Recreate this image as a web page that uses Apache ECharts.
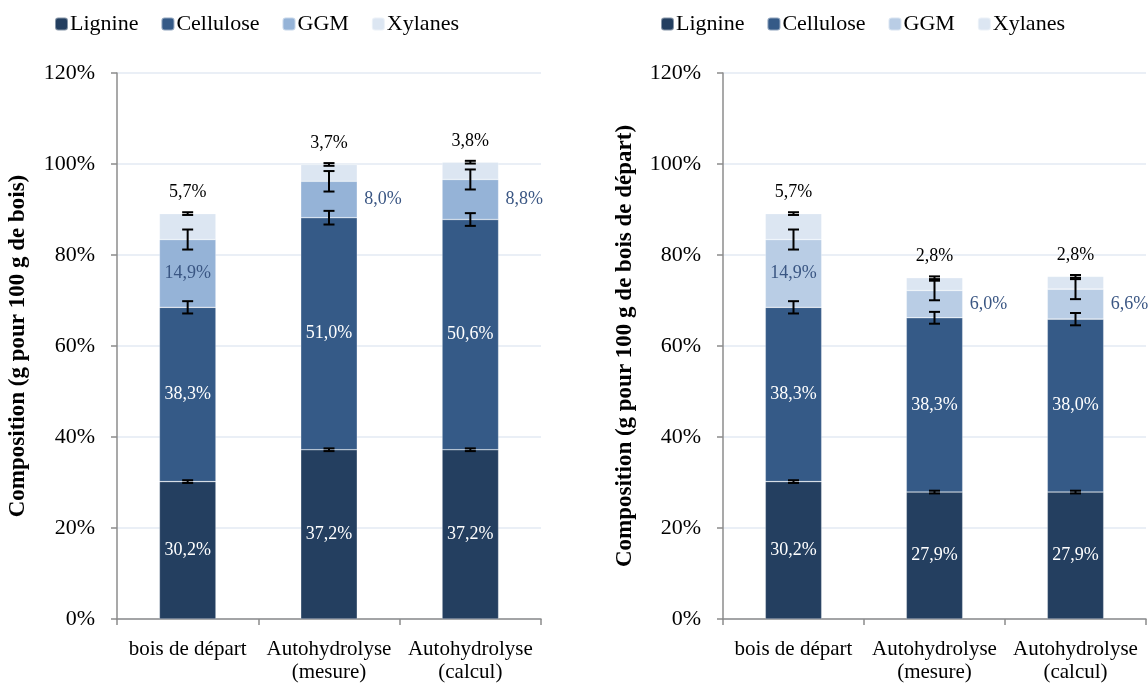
<!DOCTYPE html>
<html><head><meta charset="utf-8">
<script src="https://cdn.jsdelivr.net/npm/echarts@6/dist/echarts.min.js"></script>
<style>html,body{margin:0;padding:0;background:#fff}#c{width:1148px;height:684px}</style>
</head><body><div id="c"></div>
<script>
const categories = ['bois de départ', 'Autohydrolyse\n(mesure)', 'Autohydrolyse\n(calcul)'];
const seriesNames = ['Lignine', 'Cellulose', 'GGM', 'Xylanes'];
const yTicks = [0, 20, 40, 60, 80, 100, 120];

// Left chart: g pour 100 g de bois
const leftLignine = [30.2, 37.2, 37.2];
const leftCellulose = [38.3, 51.0, 50.6];
const leftGGM = [14.9, 8.0, 8.8];
const leftXylanes = [5.7, 3.7, 3.8];
const leftErrLignine = [0.3, 0.3, 0.3];
const leftErrCellulose = [1.35, 1.5, 1.4];
const leftErrGGM = [2.2, 2.25, 2.2];
const leftErrXylanes = [0.3, 0.3, 0.3];

// Right chart: g pour 100 g de bois de départ
const rightLignine = [30.2, 27.9, 27.9];
const rightCellulose = [38.3, 38.3, 38.0];
const rightGGM = [14.9, 6.0, 6.6];
const rightXylanes = [5.7, 2.8, 2.8];
const rightErrLignine = [0.3, 0.3, 0.3];
const rightErrCellulose = [1.35, 1.3, 1.35];
const rightErrGGM = [2.2, 2.15, 2.2];
const rightErrXylanes = [0.3, 0.3, 0.3];

const FONT = '"Liberation Serif", "Times New Roman", serif';
const C_LIG = '#243f60', C_CEL = '#355a87', C_GGM_L = '#95b3d7', C_GGM_R = '#b9cde5', C_XYL = '#dce6f2';
const LBL_BLUE = '#3a5683';

function fmt(v) { return v.toFixed(1).replace('.', ',') + '%'; }

function buildSeries(idx, vals, errs, ggmColor) {
  const stack = 'st' + idx;
  const common = { type: 'bar', stack: stack, xAxisIndex: idx, yAxisIndex: idx, barCategoryGap: '60%',
    itemStyle: { borderColor: 'rgba(255,255,255,0.45)', borderWidth: 0.6 } };
  const inLbl = { show: true, position: 'inside', color: '#ffffff', fontFamily: FONT, fontSize: 18,
    formatter: p => fmt(p.value) };
  const out = [];
  out.push(Object.assign({}, common, { name: 'Lignine', data: vals[0], color: C_LIG,
    itemStyle: Object.assign({}, common.itemStyle, { color: C_LIG }), label: inLbl }));
  out.push(Object.assign({}, common, { name: 'Cellulose', data: vals[1], color: C_CEL,
    itemStyle: Object.assign({}, common.itemStyle, { color: C_CEL }), label: inLbl }));
  out.push(Object.assign({}, common, { name: 'GGM', color: ggmColor,
    itemStyle: Object.assign({}, common.itemStyle, { color: ggmColor }),
    data: vals[2].map((v, i) => ({ value: v, label: i === 0
      ? { show: true, position: 'inside', color: LBL_BLUE, fontFamily: FONT, fontSize: 18, formatter: p => fmt(p.value) }
      : { show: true, position: 'right', distance: 7, color: LBL_BLUE, fontFamily: FONT, fontSize: 18, formatter: p => fmt(p.value) } })) }));
  out.push(Object.assign({}, common, { name: 'Xylanes', data: vals[3], color: C_XYL,
    itemStyle: Object.assign({}, common.itemStyle, { color: C_XYL }),
    label: { show: true, position: 'top', distance: 12, color: '#000', fontFamily: FONT, fontSize: 18, formatter: p => fmt(p.value) } }));
  // error bars
  const errData = [];
  for (let i = 0; i < categories.length; i++) {
    let cum = 0;
    for (let s = 0; s < 4; s++) {
      cum += vals[s][i];
      errData.push([i, cum, errs[s][i]]);
    }
  }
  out.push({ type: 'custom', name: 'err' + idx, xAxisIndex: idx, yAxisIndex: idx, z: 10, silent: true,
    data: errData,
    renderItem: function (params, api) {
      const x = api.value(0), c = api.value(1), e = api.value(2);
      const hi = api.coord([x, c + e]), lo = api.coord([x, c - e]);
      const hw = 5.5;
      const st = { stroke: '#000', lineWidth: 2 };
      return { type: 'group', children: [
        { type: 'line', shape: { x1: hi[0], y1: hi[1], x2: lo[0], y2: lo[1] }, style: st },
        { type: 'line', shape: { x1: hi[0] - hw, y1: hi[1], x2: hi[0] + hw, y2: hi[1] }, style: st },
        { type: 'line', shape: { x1: lo[0] - hw, y1: lo[1], x2: lo[0] + hw, y2: lo[1] }, style: st }
      ] };
    } });
  return out;
}

function xAxis(idx) {
  return { type: 'category', gridIndex: idx, data: categories,
    axisLine: { lineStyle: { color: '#8c8c8c', width: 1.5 } },
    axisTick: { show: true, length: 6, lineStyle: { color: '#8c8c8c', width: 1.5 } },
    axisLabel: { interval: 0, color: '#000', fontFamily: FONT, fontSize: 21, margin: 19, lineHeight: 23 } };
}
function yAxis(idx, name, gap) {
  return { type: 'value', gridIndex: idx, min: yTicks[0], max: yTicks[yTicks.length - 1], interval: 20,
    name: name, nameLocation: 'middle', nameGap: gap,
    nameTextStyle: { color: '#000', fontFamily: FONT, fontSize: 23, fontWeight: 'bold' },
    axisLine: { show: true, lineStyle: { color: '#8c8c8c', width: 1.5 } },
    axisTick: { show: true, length: 6, lineStyle: { color: '#8c8c8c', width: 1.5 } },
    splitLine: { lineStyle: { color: '#e3eaf3', width: 1.5 } },
    axisLabel: { color: '#000', fontFamily: FONT, fontSize: 22, margin: 22, formatter: v => v + '%' } };
}

const leftVals = [leftLignine, leftCellulose, leftGGM, leftXylanes];
const leftErrs = [leftErrLignine, leftErrCellulose, leftErrGGM, leftErrXylanes];
const rightVals = [rightLignine, rightCellulose, rightGGM, rightXylanes];
const rightErrs = [rightErrLignine, rightErrCellulose, rightErrGGM, rightErrXylanes];

const legendBase = { top: 8, itemWidth: 13, itemHeight: 13, itemGap: 22,
  textStyle: { color: '#000', fontFamily: FONT, fontSize: 22, padding: [0, 0, 0, -3] } };

const option = {
  animation: false,
  textStyle: { fontFamily: FONT },
  legend: [
    Object.assign({}, legendBase, { left: 49, data: [
      { name: 'Lignine', itemStyle: { color: C_LIG } }, { name: 'Cellulose', itemStyle: { color: C_CEL } },
      { name: 'GGM', itemStyle: { color: C_GGM_L } }, { name: 'Xylanes', itemStyle: { color: C_XYL } }] }),
    Object.assign({}, legendBase, { left: 655, data: [
      { name: 'Lignine', itemStyle: { color: C_LIG } }, { name: 'Cellulose', itemStyle: { color: C_CEL } },
      { name: 'GGM', itemStyle: { color: C_GGM_R } }, { name: 'Xylanes', itemStyle: { color: C_XYL } }] })
  ],
  grid: [
    { left: 117, top: 73, width: 424, height: 552 },
    { left: 723, top: 73, width: 423, height: 552 }
  ],
  xAxis: [xAxis(0), xAxis(1)],
  yAxis: [yAxis(0, 'Composition (g pour 100 g de bois)', 87), yAxis(1, 'Composition (g pour 100 g de bois de départ)', 86)],
  series: [].concat(buildSeries(0, leftVals, leftErrs, C_GGM_L), buildSeries(1, rightVals, rightErrs, C_GGM_R))
};
const chart = echarts.init(document.getElementById('c'), null, { renderer: 'canvas' });
chart.setOption(option);
</script></body></html>
